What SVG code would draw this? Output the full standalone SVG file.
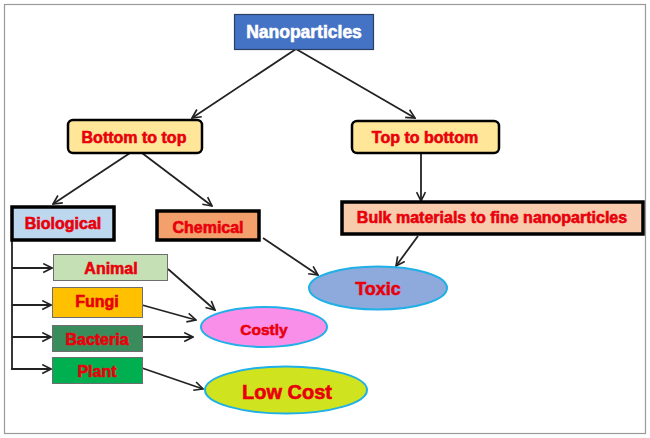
<svg xmlns="http://www.w3.org/2000/svg" width="650" height="438" viewBox="0 0 650 438">
<style>
text{font-family:"Liberation Sans",Arial,sans-serif;font-weight:bold;text-anchor:middle;fill:#E8000B;stroke:#E8000B;stroke-width:0.6;font-size:16px}
.conn line,.conn polyline{stroke:#222;stroke-width:1.8;fill:none}
.oval{stroke:#1FB0E8;stroke-width:2}
.thick{stroke:#000;stroke-width:3.5}
.thin{stroke:#6E6E6E;stroke-width:1}
</style>
<defs>
<marker id="a" viewBox="0 0 10 10" refX="9" refY="5" markerWidth="11" markerHeight="11" markerUnits="userSpaceOnUse" orient="auto">
<path d="M1,1 L9,5 L1,9" fill="none" stroke="#222" stroke-width="1.5"/>
</marker>
</defs>
<rect x="0" y="0" width="650" height="438" fill="#fff"/>
<rect x="4.5" y="4.5" width="641" height="429" fill="none" stroke="#999" stroke-width="1.2"/>
<g class="conn">
<line x1="296" y1="49" x2="192" y2="118" marker-end="url(#a)"/>
<line x1="296" y1="49" x2="415" y2="118" marker-end="url(#a)"/>
<line x1="130" y1="153" x2="53" y2="204" marker-end="url(#a)"/>
<line x1="142" y1="153" x2="212" y2="206" marker-end="url(#a)"/>
<line x1="421" y1="153" x2="421" y2="201" marker-end="url(#a)"/>
<line x1="418" y1="236" x2="396" y2="266" marker-end="url(#a)"/>
<line x1="263" y1="238" x2="318" y2="275" marker-end="url(#a)"/>
<polyline points="12,241 12,369"/>
<line x1="12" y1="268" x2="52" y2="268" marker-end="url(#a)"/>
<line x1="12" y1="305" x2="51" y2="305" marker-end="url(#a)"/>
<line x1="12" y1="337" x2="51" y2="337" marker-end="url(#a)"/>
<line x1="11.1" y1="369" x2="51" y2="369" marker-end="url(#a)"/>
<line x1="168" y1="269" x2="215" y2="310" marker-end="url(#a)"/>
<line x1="142" y1="305" x2="196" y2="320" marker-end="url(#a)"/>
<line x1="142" y1="337" x2="193" y2="337" marker-end="url(#a)"/>
<line x1="142" y1="368" x2="203" y2="389" marker-end="url(#a)"/>
</g>
<g id="nanoparticles">
<rect x="234.5" y="14.5" width="139" height="35" fill="#4472C4" stroke="#2A3F66" stroke-width="1.2"/>
<text x="304" y="38" style="fill:#fff;stroke:#fff;font-size:17.5px">Nanoparticles</text>
</g>
<g id="bottom-to-top">
<rect x="68" y="120" width="134" height="33" rx="5" fill="#FFE699" stroke="#000" stroke-width="2.5"/>
<text x="134" y="143">Bottom to top</text>
</g>
<g id="top-to-bottom">
<rect x="352" y="121" width="147" height="32" rx="5" fill="#FFE699" stroke="#000" stroke-width="2.5"/>
<text x="425" y="143">Top to bottom</text>
</g>
<g id="bulk">
<rect x="342" y="202" width="301" height="32" fill="#F8CBAD" class="thick"/>
<text x="492" y="223">Bulk materials to fine nanoparticles</text>
</g>
<g id="biological">
<rect x="12" y="207" width="102" height="33" fill="#BDD7EE" class="thick"/>
<text x="63" y="229">Biological</text>
</g>
<g id="chemical">
<rect x="157" y="211" width="102" height="29" fill="#F4A06C" class="thick"/>
<text x="208" y="233">Chemical</text>
</g>
<g id="animal">
<rect x="53.5" y="254.5" width="114" height="26" fill="#C5E0B4" class="thin"/>
<text x="111" y="274">Animal</text>
</g>
<g id="fungi">
<rect x="52.5" y="287.5" width="90" height="30" fill="#FFC000" class="thin"/>
<text x="97" y="307">Fungi</text>
</g>
<g id="bacteria">
<rect x="52.5" y="325.5" width="90" height="26" fill="#3A8C5C" class="thin"/>
<text x="97" y="345">Bacteria</text>
</g>
<g id="plant">
<rect x="52.5" y="357.5" width="90" height="26" fill="#00B050" class="thin"/>
<text x="97" y="377">Plant</text>
</g>
<g id="toxic">
<ellipse cx="378" cy="288" rx="69" ry="21.5" fill="#8EA9DB" class="oval"/>
<text x="378" y="295" style="font-size:18px">Toxic</text>
</g>
<g id="costly">
<ellipse cx="264" cy="327" rx="63" ry="20" fill="#F98FE9" class="oval"/>
<text x="264" y="335" style="font-size:15.5px">Costly</text>
</g>
<g id="low-cost">
<ellipse cx="286" cy="390" rx="81" ry="23.5" fill="#CFE41E" class="oval"/>
<text x="287" y="399" style="font-size:20px">Low Cost</text>
</g>
</svg>
